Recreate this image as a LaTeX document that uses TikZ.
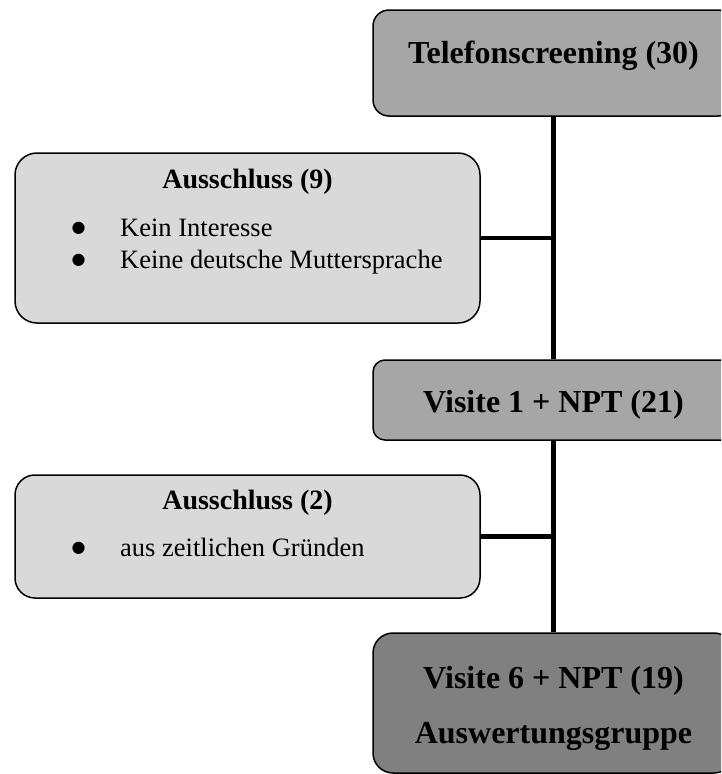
\documentclass[tikz,border=0pt]{standalone}
\usepackage{fontspec}
\setmainfont{Liberation Serif}
\newfontfamily\dotfont{DejaVu Sans}
\usepackage{tikz}
\usetikzlibrary{positioning}
\definecolor{boxdark}{RGB}{166, 166, 166}
\definecolor{boxdarker}{RGB}{128, 128, 128}
\definecolor{boxlight}{RGB}{217, 217, 217}
\newcommand{\listdot}{\raisebox{4pt}{\dotfont\fontsize{16}{32}\selectfont ●}}

\begin{document}
\begin{tikzpicture}[x=1pt, y=-1pt,
        flowbox/.style={draw=black, line width=1.5pt, rounded corners=16pt, inner sep=0pt},
        heading/.style={font=\fontsize{32}{38}\selectfont\bfseries, inner sep=0pt, anchor=base},
        subheading/.style={font=\fontsize{28}{33}\selectfont\bfseries, inner sep=0pt, anchor=base},
        itemlist/.style={font=\fontsize{26.5}{32}\selectfont, inner sep=0pt, anchor=base west, align=left},
        link/.style={line width=4.5pt}]
            \clip (0,0) rectangle (721,774);
            \node[flowbox, fill=boxdark, minimum width=361pt, minimum height=106pt] (tel) at (553.5,63) {};
            \node[flowbox, fill=boxdark, rounded corners=12pt, minimum width=361pt, minimum height=80pt] (vis1) at (553.5,400) {};
            \node[flowbox, fill=boxdarker, rounded corners=20pt, minimum width=361pt, minimum height=140pt] (vis6) at (553.5,703) {};
            \node[flowbox, fill=boxlight, rounded corners=22pt, minimum width=465pt, minimum height=170pt] (aus1) at (247.5,238) {};
            \node[flowbox, fill=boxlight, rounded corners=20pt, minimum width=465pt, minimum height=123pt] (aus2) at (247.5,536.5) {};

            \node[heading] (telText) at (553.5,63) {Telefonscreening (30)};
            \node[heading] (vis1Text) at (553.5,412) {Visite 1 + NPT (21)};
            \node[heading] (vis6Text) at (553.5,688) {Visite 6 + NPT (19)};
            \node[heading] (vis6Sub) at (553.5,743) {Auswertungsgruppe};
            \node[subheading] (aus1Text) at (247.5,188) {Ausschluss (9)};
            \node[itemlist] (aus1List) at (71.3,236) {%
                \begin{tabular}[t]{@{}p{48.7pt}@{}l@{}}
                    \listdot & Kein Interesse\\
                    \listdot & Keine deutsche Muttersprache
                \end{tabular}};
            \node[subheading] (aus2Text) at (247.5,509) {Ausschluss (2)};
            \node[itemlist] (aus2List) at (71.3,556) {%
                \begin{tabular}[t]{@{}p{48.7pt}@{}l@{}}
                    \listdot & aus zeitlichen Gründen
                \end{tabular}};

            \draw[link] (tel.south) -- (vis1.north);
            \draw[link] (vis1.south) -- (vis6.north);
            \draw[link] (aus1.east) -- (aus1.east -| tel.south);
            \draw[link] (aus2.east) -- (aus2.east -| vis1.south);
        \end{tikzpicture}
\end{document}
